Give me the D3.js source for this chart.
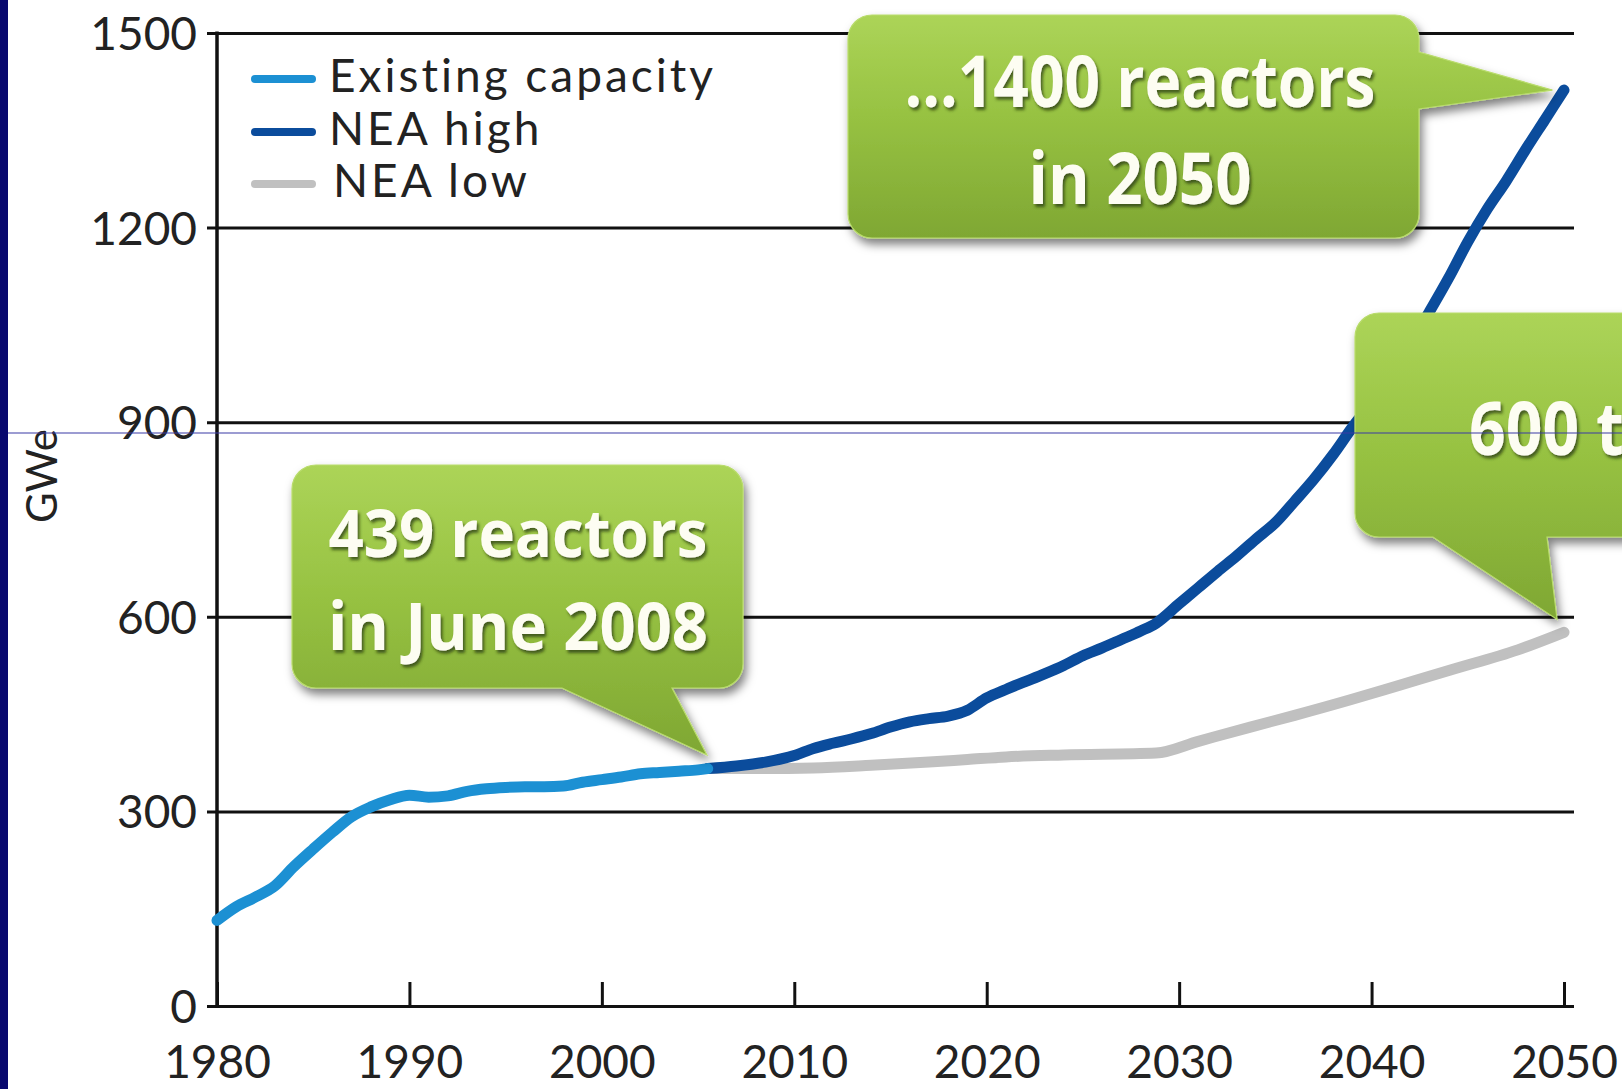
<!DOCTYPE html>
<html><head><meta charset="utf-8">
<script src="https://cdn.jsdelivr.net/npm/d3@7"></script>
<style>html,body{margin:0;padding:0;background:#fff;overflow:hidden}</style>
</head><body>
<svg id="chart" width="1622" height="1089"></svg>
<script>
// ---------- data ----------
const xTicks = [1980, 1990, 2000, 2010, 2020, 2030, 2040, 2050];
const yTicks = [0, 300, 600, 900, 1200, 1500];
const yAxisLabel = "GWe";
const seriesNames = ["Existing capacity", "NEA high", "NEA low"];

const existingYears  = [1980,1981,1982,1983,1984,1985,1986,1987,1988,1989,1990,1991,1992,1993,1994,1995,1996,1997,1998,1999,2000,2001,2002,2003,2004,2005,2005.5];
const existingValues = [132, 153, 168, 185, 215, 242, 268, 292, 307, 318, 325, 322, 324, 331, 335, 337, 338, 338, 339, 345, 349, 353, 358, 360, 362, 364, 366];

const highYears  = [2005.5,2007,2008.5,2010,2011,2012,2013,2014,2015,2016,2017,2018,2019,2020,2021,2022,2023,2024,2025,2026,2027,2028,2028.8,2030,2031,2032,2033,2034,2035,2036,2037,2038,2039,2040,2041,2042,2043,2044,2045,2046,2047,2048,2049,2050];
const highValues = [366, 370, 376, 386, 397, 405, 412, 420, 430, 438, 443, 447, 456, 475, 488, 500, 512, 525, 540, 552, 565, 578, 590, 620, 645, 670, 694, 720, 745, 778, 812, 850, 892, 930, 972, 1020, 1070, 1122, 1178, 1228, 1272, 1320, 1366, 1412];

const lowYears  = [2005.5,2008,2011,2014,2017,2019,2021,2024,2028.8,2031,2033.7,2036,2038.9,2041.5,2044.1,2047.6,2050];
const lowValues = [366, 366, 367, 371, 376, 380, 384, 387, 390, 408, 430, 448, 472, 495, 518, 549, 576];

const calloutLines = [["...1400 reactors", "in 2050"], ["439 reactors", "in June 2008"], ["600 to..."]];
const calloutTargetYears  = [2049.4, 2005.46, 2049.64];
const calloutTargetValues = [1412, 387, 596];

// ---------- layout ----------
const W = 1622, H = 1089;
const x = d3.scaleLinear().domain([1980, 2050]).range([217, 1564]);
const y = d3.scaleLinear().domain([0, 1500]).range([1006, 33]);
const gridRight = 1574, tickLeft = 207;
const colors = ["#1c90d3", "#0b4c9c", "#c0c0c0"];

const svg = d3.select("#chart");
svg.append("rect").attr("width", W).attr("height", H).attr("fill", "#fff");

const defs = svg.append("defs");
const grad = defs.append("linearGradient").attr("id", "green").attr("x1", 0).attr("y1", 0).attr("x2", 0).attr("y2", 1);
grad.append("stop").attr("offset", "0").attr("stop-color", "#acd458");
grad.append("stop").attr("offset", "0.45").attr("stop-color", "#97c242");
grad.append("stop").attr("offset", "1").attr("stop-color", "#7fa733");
const f1 = defs.append("filter").attr("id", "boxShadow").attr("x", "-10%").attr("y", "-10%").attr("width", "130%").attr("height", "140%");
f1.append("feDropShadow").attr("dx", 3).attr("dy", 6).attr("stdDeviation", 5).attr("flood-color", "#000").attr("flood-opacity", 0.5);
const f2 = defs.append("filter").attr("id", "txtShadow").attr("x", "-5%").attr("y", "-20%").attr("width", "115%").attr("height", "150%");
f2.append("feDropShadow").attr("dx", 2).attr("dy", 3).attr("stdDeviation", 1.6).attr("flood-color", "#2a3a10").attr("flood-opacity", 0.75);

// ---------- axes ----------
const yAxis = d3.axisLeft(y).tickValues(yTicks).tickFormat(d3.format("d"))
  .tickSize(-(gridRight - tickLeft)).tickPadding(10);
const gy = svg.append("g").attr("transform", `translate(${tickLeft},0)`).call(yAxis);
gy.select(".domain").remove();
gy.selectAll(".tick line").attr("stroke", "#111").attr("stroke-width", 3);
gy.selectAll(".tick text").attr("font-family", "Lato, sans-serif").attr("font-size", 46)
  .attr("fill", "#222").attr("dy", "0.36em");

const xAxis = d3.axisBottom(x).tickValues(xTicks).tickFormat(d3.format("d")).tickSizeInner(-24).tickSizeOuter(0);
const gx = svg.append("g").attr("transform", `translate(0,${y(0)})`).call(xAxis);
gx.select(".domain").remove();
gx.selectAll(".tick line").attr("stroke", "#111").attr("stroke-width", 3);
gx.selectAll(".tick text").attr("font-family", "Lato, sans-serif").attr("font-size", 46)
  .attr("fill", "#222").attr("y", 72).attr("dy", 0);

svg.append("line").attr("x1", x(1980)).attr("x2", x(1980)).attr("y1", y(0) + 1.5).attr("y2", y(1500) - 1.5)
  .attr("stroke", "#111").attr("stroke-width", 3.5);

svg.append("text").attr("transform", "translate(57,476) rotate(-90)").attr("text-anchor", "middle")
  .attr("font-family", "Lato, sans-serif").attr("font-size", 42).attr("fill", "#222").text(yAxisLabel);

// ---------- lines ----------
const line = d3.line().x(d => x(d[0])).y(d => y(d[1])).curve(d3.curveMonotoneX);
const series = [
  d3.zip(existingYears, existingValues),
  d3.zip(highYears, highValues),
  d3.zip(lowYears, lowValues)
];
[2, 1, 0].forEach(i => {
  svg.append("path").attr("d", line(series[i])).attr("fill", "none").attr("stroke", colors[i])
    .attr("stroke-width", 11).attr("stroke-linecap", "round").attr("stroke-linejoin", "round");
});

// ---------- legend ----------
const legendY = [79, 132, 184];
const leg = svg.append("g");
seriesNames.forEach((n, i) => {
  leg.append("line").attr("x1", 255).attr("x2", 312).attr("y1", legendY[i]).attr("y2", legendY[i])
    .attr("stroke", colors[i]).attr("stroke-width", 8).attr("stroke-linecap", "round");
  leg.append("text").attr("x", i === 2 ? 333 : 329).attr("y", legendY[i] + 13)
    .attr("font-family", "Lato, sans-serif").attr("font-size", 46).attr("letter-spacing", 3)
    .attr("fill", "#222").text(n);
});

// ---------- callouts ----------
function calloutPath(x0, y0, x1, y1, r, side, a, b, tx, ty) {
  let p = `M${x0 + r},${y0} L${x1 - r},${y0} A${r},${r} 0 0 1 ${x1},${y0 + r}`;
  if (side === "right") p += ` L${x1},${a} L${tx},${ty} L${x1},${b}`;
  p += ` L${x1},${y1 - r} A${r},${r} 0 0 1 ${x1 - r},${y1}`;
  if (side === "bottom") p += ` L${b},${y1} L${tx},${ty} L${a},${y1}`;
  p += ` L${x0 + r},${y1} A${r},${r} 0 0 1 ${x0},${y1 - r} L${x0},${y0 + r} A${r},${r} 0 0 1 ${x0 + r},${y0} Z`;
  return p;
}
const boxes = [
  {x0: 848, y0: 15, x1: 1419, y1: 238, side: "right", a: 52, b: 109,
   textX: 1140, anchor: "middle", base: [107, 204], size: 72, widths: [471, 223]},
  {x0: 292, y0: 465, x1: 743, y1: 688, side: "bottom", a: 562, b: 672,
   textX: 518, anchor: "middle", base: [557, 650], size: 67, widths: [379, 380]},
  {x0: 1355, y0: 313, x1: 1760, y1: 537, side: "bottom", a: 1433, b: 1547,
   textX: 1469, anchor: "start", base: [455], size: 73, widths: [null]}
];
boxes.forEach((bx, i) => {
  const tx = x(calloutTargetYears[i]), ty = y(calloutTargetValues[i]);
  const g = svg.append("g");
  g.append("path").attr("d", calloutPath(bx.x0, bx.y0, bx.x1, bx.y1, 24, bx.side, bx.a, bx.b, tx, ty))
    .attr("fill", "url(#green)").attr("stroke", "#b9dc6c").attr("stroke-width", 1.2)
    .attr("filter", "url(#boxShadow)");
  calloutLines[i].forEach((t, j) => {
    const el = g.append("text").attr("x", bx.textX).attr("y", bx.base[j]).attr("text-anchor", bx.anchor)
      .attr("font-family", "'Open Sans', sans-serif").attr("font-weight", 700).attr("font-size", bx.size)
      .attr("fill", "#fdfdf2").attr("filter", "url(#txtShadow)").text(t);
    let w = bx.widths[j];
    if (w == null) w = el.node().getComputedTextLength() * 0.88;
    el.attr("textLength", w).attr("lengthAdjust", "spacingAndGlyphs");
  });
});

// ---------- slide frame details ----------
svg.append("line").attr("x1", 0).attr("x2", W).attr("y1", 433).attr("y2", 433)
  .attr("stroke", "#3a3aa6").attr("stroke-width", 1.2);
svg.append("rect").attr("x", 0).attr("y", 0).attr("width", 8).attr("height", H).attr("fill", "#08086e");
</script>
</body></html>
